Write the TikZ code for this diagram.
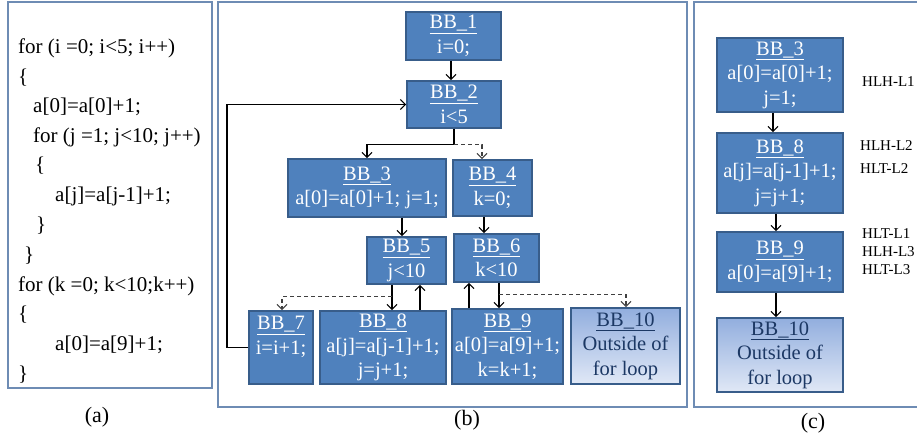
\documentclass[tikz,border=0pt]{standalone}
\usepackage{fontspec}
\setmainfont{Liberation Serif}
\usetikzlibrary{arrows.meta,calc}
\definecolor{bbfill}{RGB}{79,129,189}
\definecolor{bbline}{RGB}{56,93,138}
\definecolor{panel}{RGB}{110,140,180}
\definecolor{navy}{RGB}{28,56,100}
\definecolor{gtop}{RGB}{146,174,222}
\definecolor{gbot}{RGB}{224,232,246}
\tikzset{
  bb/.style={draw=bbline, fill=bbfill, line width=1.8pt, text=white, align=center,
    inner sep=0pt, font=\fontsize{20.5}{24.5}\selectfont},
  bbout/.style={draw=bbline, top color=gtop, bottom color=gbot, line width=1.8pt, text=navy,
    align=center, inner sep=0pt, font=\fontsize{20.5}{24.5}\selectfont},
  panelbox/.style={draw=panel, line width=1.3pt},
  code/.style={anchor=base west, inner sep=0pt, font=\fontsize{21}{25}\selectfont},
  captext/.style={inner sep=0pt, font=\fontsize{22}{26}\selectfont},
  hl/.style={anchor=west, inner sep=0pt, font=\fontsize{15}{18}\selectfont},
  arr/.style={draw=black, line width=1.1pt, -{Straight Barb[length=5pt,width=10pt,line width=1.1pt]}},
  darr/.style={draw=black!75, line width=1.1pt, dash pattern=on 4pt off 3pt,
    -{Straight Barb[length=5pt,width=10pt,line width=1.1pt]}}
}
\begin{document}
\begin{tikzpicture}[x=1pt,y=-1pt]
\useasboundingbox (0,0) rectangle (917,438);
% panels
\draw[panelbox] (8,2) rectangle (212,388);
\draw[panelbox] (218,2) rectangle (687,407);
\draw[panelbox] (694,2) rectangle (919,407);
% (a) code
\node[code] (c1) at (18,54) {for (i =0; i<5; i++)};
\node[code] (c2) at (18,84) {\{};
\node[code] (c3) at (33,113) {a[0]=a[0]+1;};
\node[code] (c4) at (33,143) {for (j =1; j<10; j++)};
\node[code] (c5) at (35,172) {\{};
\node[code] (c6) at (55,202) {a[j]=a[j-1]+1;};
\node[code] (c7) at (36,231) {\}};
\node[code] (c8) at (24,261) {\}};
\node[code] (c9) at (18,291) {for (k =0; k<10;k++)};
\node[code] (c10) at (18,320) {\{};
\node[code] (c11) at (55,350) {a[0]=a[9]+1;};
\node[code] (c12) at (18,380) {\}};
% captions
\node[captext] (capa) at (97,417) {(a)};
\node[captext] (capb) at (467,420) {(b)};
\node[captext] (capc) at (813,423) {(c)};
% (b) nodes
\node[bb, minimum width=95pt, minimum height=48pt] (b1) at (453.5,36) {\underline{BB\_1}\\ i=0;};
\node[bb, minimum width=94pt, minimum height=47pt] (b2) at (454,104.5) {\underline{BB\_2}\\ i<5};
\node[bb, minimum width=158pt, minimum height=58pt] (b3) at (367,188) {\underline{BB\_3}\\ a[0]=a[0]+1; j=1;};
\node[bb, minimum width=79pt, minimum height=56pt] (b4) at (492.5,188) {\underline{BB\_4}\\ k=0;};
\node[bb, minimum width=79pt, minimum height=47pt] (b5) at (406.5,260.5) {\underline{BB\_5}\\ j<10};
\node[bb, minimum width=85pt, minimum height=48pt] (b6) at (496.5,258) {\underline{BB\_6}\\ k<10};
\node[bb, minimum width=64pt, minimum height=73pt] (b7) at (281,347.5) {\underline{BB\_7}\\ i=i+1;\\ \mbox{}};
\node[bb, minimum width=126pt, minimum height=73pt] (b8) at (383,347.5) {\underline{BB\_8}\\ a[j]=a[j-1]+1;\\ j=j+1;};
\node[bb, minimum width=111pt, minimum height=75pt] (b9) at (507.5,346.5) {\underline{BB\_9}\\ a[0]=a[9]+1;\\ k=k+1;};
\node[bbout, minimum width=109pt, minimum height=76pt] (b10) at (625.5,346) {\underline{BB\_10}\\ Outside of\\ for loop};
% (b) connectors
\draw[arr] ($(b1.south)+(-2.5,0)$) -- ($(b2.north)+(-3,0)$);
\coordinate (lp) at (227,0);
\draw[arr] (b7.west) -- (b7.west -| lp) |- (b2.west);
\coordinate (s2) at ($(b2.south)+(0,16)$);
\draw[arr] (b2.south) -- (s2) -| (b3.north);
\draw[darr] (s2) -| ($(b4.north)+(-10.5,0)$);
\coordinate (a35) at ($(b5.north)+(-4.5,0)$);
\draw[arr] (a35 |- b3.south) -- (a35);
\coordinate (a46) at ($(b6.north)+(-12.5,0)$);
\draw[arr] (a46 |- b4.south) -- (a46);
\coordinate (a58) at ($(b5.south)+(-14.5,0)$);
\draw[arr] (a58) -- (a58 |- b8.north);
\draw[darr] ($(a58)+(0,12)$) -| ($(b7.north)+(1,0)$);
\coordinate (a85) at ($(b8.north)+(37,0)$);
\draw[arr] (a85) -- (a85 |- b5.south);
\coordinate (a96) at ($(b9.north)+(-38.5,0)$);
\draw[arr] (a96) -- (a96 |- b6.south);
\coordinate (a69) at ($(b6.south)+(2.5,0)$);
\draw[arr] (a69) -- (a69 |- b9.north);
\draw[darr] ($(a69)+(0,12)$) -| ($(b10.north)+(0.5,0)$);
% (c) nodes
\node[bb, minimum width=126pt, minimum height=74pt] (c3b) at (780,75) {\underline{BB\_3}\\ a[0]=a[0]+1;\\ j=1;};
\node[bb, minimum width=126pt, minimum height=80pt] (c8b) at (780,173) {\underline{BB\_8}\\ a[j]=a[j-1]+1;\\ j=j+1;};
\node[bb, minimum width=126pt, minimum height=60pt] (c9b) at (780,262) {\underline{BB\_9}\\ a[0]=a[9]+1;};
\node[bbout, minimum width=126pt, minimum height=74pt] (c10b) at (780,355) {\underline{BB\_10}\\ Outside of\\ for loop};
\draw[arr] ($(c3b.south)+(-7,0)$) -- ($(c8b.north)+(-7,0)$);
\draw[arr] ($(c8b.south)+(-4,0)$) -- ($(c9b.north)+(-4,0)$);
\draw[arr] ($(c9b.south)+(-4,0)$) -- ($(c10b.north)+(-4,0)$);
% (c) labels
\node[hl] (l1) at (862,82) {HLH-L1};
\node[hl] (l2) at (860,146) {HLH-L2};
\node[hl] (l3) at (860,169) {HLT-L2};
\node[hl] (l4) at (862,234) {HLT-L1};
\node[hl] (l5) at (862,252) {HLH-L3};
\node[hl] (l6) at (862,270) {HLT-L3};
\end{tikzpicture}
\end{document}
